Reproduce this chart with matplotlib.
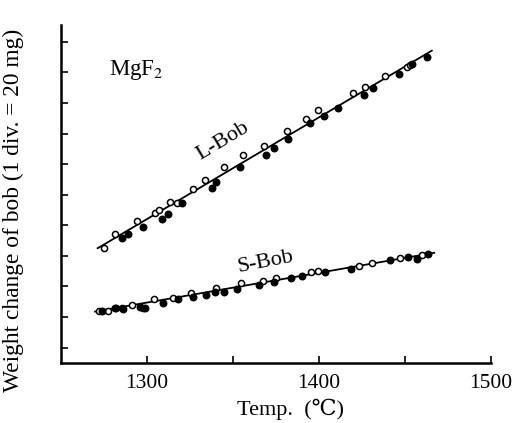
import matplotlib
matplotlib.use("Agg")
import matplotlib.pyplot as plt
import numpy as np

plt.rcParams['font.family'] = ['Liberation Serif', 'DejaVu Serif']

# L-Bob, open circles
l_open_t = [1275.0, 1281.6, 1294.4, 1304.7, 1306.8, 1313.4, 1317.6, 1326.6, 1333.9, 1344.8,
            1356.0, 1367.8, 1381.2, 1392.4, 1399.2, 1419.9, 1426.6, 1438.4, 1451.0, 1452.9]
l_open_w = [3.77, 4.21, 4.65, 4.91, 5.00, 5.27, 5.24, 5.68, 5.98, 6.42,
            6.81, 7.09, 7.59, 7.98, 8.27, 8.82, 9.02, 9.38, 9.68, 9.74]
# L-Bob, filled circles
l_fill_t = [1285.3, 1289.1, 1297.5, 1308.5, 1312.0, 1320.2, 1337.6, 1340.1, 1354.1, 1369.0,
            1374.0, 1381.8, 1394.8, 1403.1, 1411.2, 1426.3, 1431.2, 1446.7, 1453.9, 1462.6]
l_fill_w = [4.08, 4.21, 4.45, 4.70, 4.86, 5.22, 5.73, 5.92, 6.42, 6.80,
            7.02, 7.31, 7.83, 8.07, 8.34, 8.76, 9.00, 9.44, 9.76, 10.01]
l_fit_t = [1271.3, 1465.5]
l_fit_w = [3.75, 10.21]

# S-Bob, open circles
s_open_t = [1272.3, 1277.5, 1281.8, 1285.3, 1291.1, 1297.8, 1304.2, 1315.3, 1325.4, 1340.1,
            1354.5, 1367.6, 1374.8, 1395.2, 1399.6, 1423.3, 1430.6, 1447.1, 1459.7]
s_open_w = [1.70, 1.70, 1.81, 1.81, 1.89, 1.81, 2.09, 2.13, 2.30, 2.46,
            2.60, 2.69, 2.79, 2.96, 3.01, 3.18, 3.26, 3.42, 3.53]
# S-Bob, filled circles
s_fill_t = [1273.7, 1281.4, 1286.2, 1295.9, 1298.8, 1309.1, 1318.2, 1326.9, 1334.1, 1339.5,
            1344.9, 1352.2, 1365.3, 1373.8, 1383.7, 1389.9, 1403.5, 1418.6, 1441.3, 1451.9,
            1456.8, 1463.5]
s_fill_w = [1.70, 1.79, 1.75, 1.84, 1.79, 1.97, 2.08, 2.17, 2.22, 2.33,
            2.33, 2.41, 2.55, 2.64, 2.79, 2.84, 2.96, 3.07, 3.37, 3.47,
            3.39, 3.56]
s_fit_t = [1269.8, 1466.9]
s_fit_w = [1.68, 3.60]

fig = plt.figure(figsize=(5.17, 4.23), dpi=100)
ax = fig.add_axes([0.118, 0.142, 0.832, 0.799])

ax.plot(l_fit_t, l_fit_w, color='black', lw=1.3)
ax.plot(s_fit_t, s_fit_w, color='black', lw=1.3)
for t, w in [(l_open_t, l_open_w), (s_open_t, s_open_w)]:
    ax.plot(t, w, 'o', ms=4.4, mfc='white', mec='black', mew=1.1, ls='none')
for t, w in [(l_fill_t, l_fill_w), (s_fill_t, s_fill_w)]:
    ax.plot(t, w, 'o', ms=4.7, mfc='black', mec='black', ls='none')

ax.text(1344, 7.25, 'L-Bob', rotation=31, ha='center', va='center', fontsize=16)
ax.text(1368.6, 3.31, 'S-Bob', rotation=11, ha='center', va='center', fontsize=16)
ax.text(1294, 9.58, 'MgF$_2$', ha='center', va='center', fontsize=16.5,
        math_fontfamily='stix')

ax.set_xlim(1250, 1500)
ax.set_ylim(0, 11.05)
ax.set_xticks([1300, 1350, 1400, 1450, 1500])
ax.set_xticklabels(['1300', '', '1400', '', '1500'])
ax.set_yticks(np.arange(0.5, 11, 1.0))
ax.set_yticklabels([])
ax.tick_params(direction='in', length=5, width=1.2, labelsize=15.5, pad=8)
for s in ['top', 'right']:
    ax.spines[s].set_visible(False)
for s in ['left', 'bottom']:
    ax.spines[s].set_linewidth(1.8)

fig.text(0.561, 0.032, 'Temp.  (℃)', fontsize=16, ha='center', va='center')
fig.text(0.026, 0.503, 'Weight change of bob (1 div. = 20 mg)', fontsize=16.8,
         rotation=90, ha='center', va='center')

fig.savefig('out.png', dpi=100)
